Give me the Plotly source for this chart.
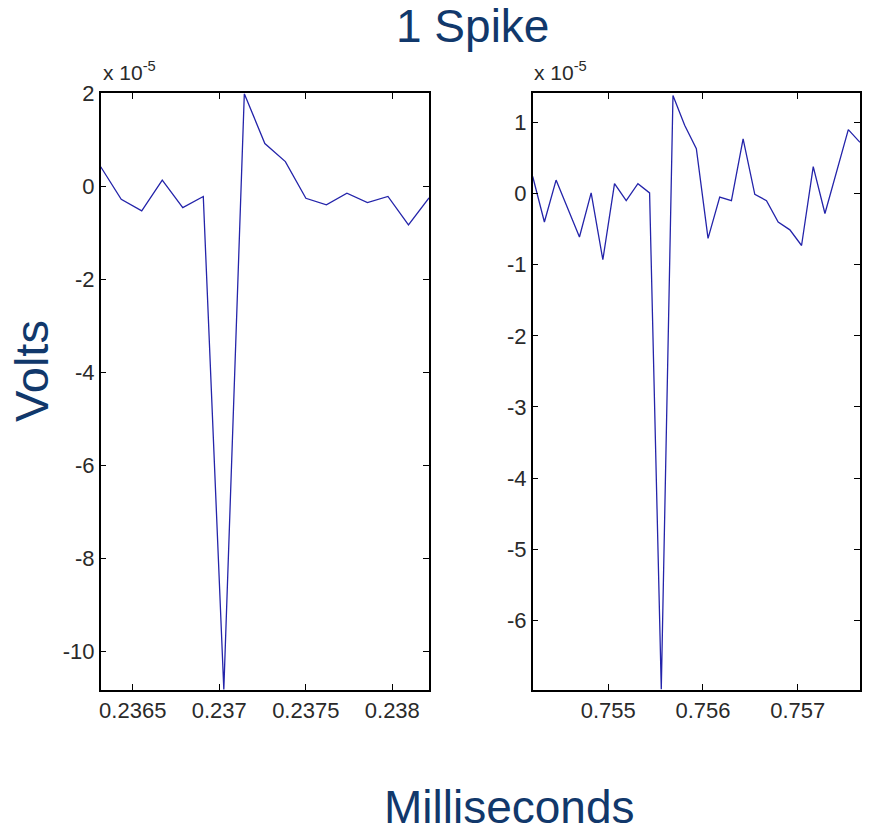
import plotly.graph_objects as go

# ---- data (values in units of 1e-5 V) ----
left_time = [0.236315, 0.2364336, 0.2365521, 0.2366707, 0.2367892, 0.2369078,
             0.2370264, 0.2371449, 0.2372635, 0.237382, 0.2375006, 0.2376192,
             0.2377377, 0.2378563, 0.2379748, 0.2380934, 0.238212]
left_volts = [0.43, -0.27, -0.52, 0.14, -0.45, -0.21, -10.82, 2.0, 0.93, 0.54,
              -0.25, -0.39, -0.14, -0.34, -0.21, -0.82, -0.24]

right_time = [0.754202, 0.7543254, 0.7544489, 0.7545723, 0.7546957, 0.7548192,
              0.7549426, 0.755066, 0.7551894, 0.7553129, 0.7554363, 0.7555597,
              0.7556832, 0.7558066, 0.75593, 0.7560535, 0.7561769, 0.7563003,
              0.7564237, 0.7565472, 0.7566706, 0.756794, 0.7569175, 0.7570409,
              0.7571643, 0.7572878, 0.7574112, 0.7575346, 0.757658]
right_volts = [0.24, -0.40, 0.19, -0.20, -0.61, 0.01, -0.93, 0.14, -0.10, 0.14,
               0.01, -6.97, 1.38, 0.96, 0.63, -0.63, -0.05, -0.10, 0.77, -0.01,
               -0.10, -0.40, -0.51, -0.73, 0.38, -0.28, 0.30, 0.90, 0.72]

left_xticks = [0.2365, 0.237, 0.2375, 0.238]
left_xticktext = ["0.2365", "0.237", "0.2375", "0.238"]
left_yticks = [-10, -8, -6, -4, -2, 0, 2]
left_yticktext = ["-10", "-8", "-6", "-4", "-2", "0", "2"]

right_xticks = [0.755, 0.756, 0.757]
right_xticktext = ["0.755", "0.756", "0.757"]
right_yticks = [-6, -5, -4, -3, -2, -1, 0, 1]
right_yticktext = ["-6", "-5", "-4", "-3", "-2", "-1", "0", "1"]

title_text = "1 Spike"
xlabel_text = "Milliseconds"
ylabel_text = "Volts"
scale_text = "x 10<sup>-5</sup>"

# ---- styling ----
W, H = 873, 833
LINE_COLOR = "#2424AA"
NAVY = "#11386B"
FAMILY = "Liberation Sans, Arial, sans-serif"
TICK_FONT = dict(family=FAMILY, size=22, color="#2a2a2a")

def px(xp):
    return xp / W

def py(yp):
    return 1 - yp / H

fig = go.Figure()
fig.add_trace(go.Scatter(x=left_time, y=left_volts, mode="lines",
                         line=dict(color=LINE_COLOR, width=1.3),
                         xaxis="x", yaxis="y", showlegend=False))
fig.add_trace(go.Scatter(x=right_time, y=right_volts, mode="lines",
                         line=dict(color=LINE_COLOR, width=1.3),
                         xaxis="x2", yaxis="y2", showlegend=False))

axis_common = dict(showline=True, linecolor="black", linewidth=1.5, mirror="ticks",
                   ticks="inside", ticklen=6, tickwidth=1.3, tickcolor="black",
                   showgrid=False, zeroline=False, tickfont=TICK_FONT,
                   automargin=False)

y_dom = [py(690), py(93.3)]
fig.update_layout(
    width=W, height=H,
    margin=dict(l=0, r=0, t=0, b=0, pad=0),
    paper_bgcolor="white", plot_bgcolor="white",
    xaxis=dict(domain=[px(100.7), px(429)], range=[0.236315, 0.238212],
               tickvals=left_xticks, ticktext=left_xticktext, anchor="y", **axis_common),
    yaxis=dict(domain=y_dom, range=[-10.83, 2.01],
               tickvals=left_yticks, ticktext=left_yticktext, anchor="x", **axis_common),
    xaxis2=dict(domain=[px(532.7), px(860)], range=[0.754202, 0.757658],
                tickvals=right_xticks, ticktext=right_xticktext, anchor="y2", **axis_common),
    yaxis2=dict(domain=y_dom, range=[-6.98, 1.41],
                tickvals=right_yticks, ticktext=right_yticktext, anchor="x2", **axis_common),
)

big_font = dict(family=FAMILY, size=46, color=NAVY)
fig.add_annotation(text=title_text, x=px(472.5), y=py(25.5), xref="paper", yref="paper",
                   xanchor="center", yanchor="middle", showarrow=False, font=big_font)
fig.add_annotation(text=xlabel_text, x=px(509), y=py(806.5), xref="paper", yref="paper",
                   xanchor="center", yanchor="middle", showarrow=False, font=big_font)
fig.add_annotation(text=ylabel_text, x=px(31), y=py(371), xref="paper", yref="paper",
                   xanchor="center", yanchor="middle", showarrow=False, textangle=-90,
                   font=dict(family=FAMILY, size=47, color=NAVY))

scale_font = dict(family=FAMILY, size=21, color="#2a2a2a")
for xl in (101, 532):
    fig.add_annotation(text=scale_text, x=px(xl), y=py(86), xref="paper", yref="paper",
                       xanchor="left", yanchor="bottom", showarrow=False, font=scale_font)

fig.write_html("out.html",
               config={"displayModeBar": False},
               post_script="document.body.style.margin='0px';document.body.style.overflow='hidden';")
